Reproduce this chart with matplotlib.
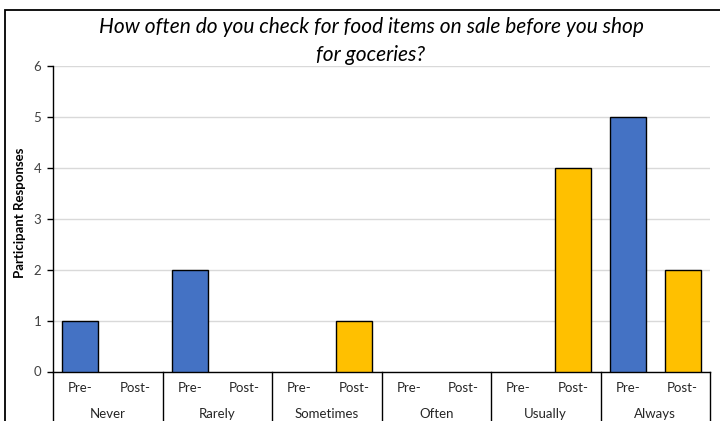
import matplotlib
matplotlib.use("Agg")
import matplotlib.pyplot as plt
from matplotlib.patches import Rectangle
from matplotlib.lines import Line2D

categories = ["Never", "Rarely", "Sometimes", "Often", "Usually", "Always"]
sub_labels = ["Pre-", "Post-"]
pre_values = [1, 2, 0, 0, 0, 5]
post_values = [0, 0, 1, 0, 4, 2]
y_ticks = [0, 1, 2, 3, 4, 5, 6]
title = "How often do you check for food items on sale before you shop\nfor goceries?"
ylabel = "Participant Responses"

plt.rcParams['font.family'] = ['Lato', 'DejaVu Sans']

W, H = 720, 421
fig = plt.figure(figsize=(W / 100, H / 100), dpi=100)

left, right, top, bottom = 53, 710, 65.7, 371.5
ax = fig.add_axes([left / W, (H - bottom) / H, (right - left) / W, (bottom - top) / H])

blue = "#4472C4"
yellow = "#FFC000"
bw = 0.66
for i, cat in enumerate(categories):
    xp = 2 * i
    xq = 2 * i + 1
    if pre_values[i] > 0:
        ax.bar(xp, pre_values[i], width=bw, color=blue, edgecolor="black", linewidth=1.0, zorder=3)
    if post_values[i] > 0:
        ax.bar(xq, post_values[i], width=bw, color=yellow, edgecolor="black", linewidth=1.0, zorder=3)

ax.set_xlim(-0.5, 2 * len(categories) - 0.5)
ax.set_ylim(0, 6)
ax.set_yticks(y_ticks)
ax.set_xticks([])
ax.tick_params(axis='y', direction='out', length=4.5, width=1.0, colors='black', labelcolor='#404040', labelsize=9.5, pad=4)
ax.yaxis.grid(True, color="#D9D9D9", linewidth=1.0, zorder=0)
ax.set_axisbelow(True)
for s in ["top", "right"]:
    ax.spines[s].set_visible(False)
ax.spines["left"].set_linewidth(1.0)
ax.spines["bottom"].set_linewidth(1.0)

ph = bottom - top
trans = ax.get_xaxis_transform()
sub_y = -(388 - bottom) / ph
cat_y = -(414 - bottom) / ph
ext = -(H + 5 - bottom) / ph
for i, cat in enumerate(categories):
    for j, lab in enumerate(sub_labels):
        ax.text(2 * i + j, sub_y, lab, transform=trans, ha='center', va='center', fontsize=9.5, color='#262626', clip_on=False)
    ax.text(2 * i + 0.5, cat_y, cat, transform=trans, ha='center', va='center', fontsize=9.5, color='#262626', clip_on=False)
for k in range(len(categories) + 1):
    xv = 2 * k - 0.5
    ax.add_line(Line2D([xv, xv], [0, ext], transform=trans, color='black', linewidth=1.0, clip_on=False))

fig.text(20 / W, 1 - 213 / H, ylabel, rotation=90, ha='center', va='center', fontsize=9.5, fontweight='bold', color='black')

fig.text(371 / W, 1 - 41 / H, title, ha='center', va='center', fontsize=15, style='italic', color='black', linespacing=1.5)

fig.patches.append(Rectangle((5 / W, -0.1), 1.2, (H - 10) / H + 0.1, transform=fig.transFigure,
                             fill=False, edgecolor='black', linewidth=1.3, clip_on=False))

fig.savefig("out.png", dpi=100)
